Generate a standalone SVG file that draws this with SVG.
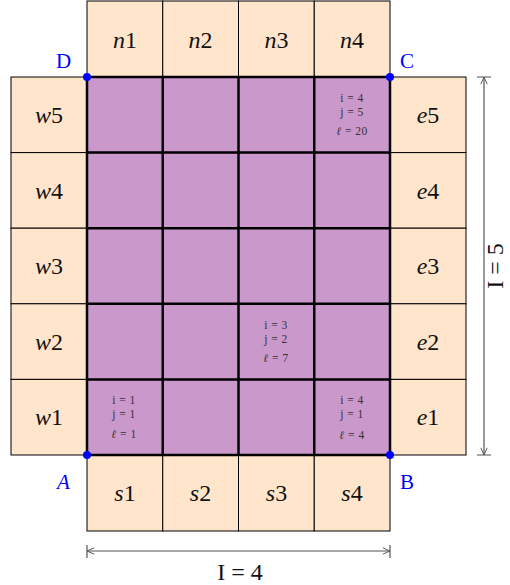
<svg xmlns="http://www.w3.org/2000/svg" width="510" height="585" viewBox="0 0 510 585">
<defs>
<style>
.pe{fill:#FFE5CC;stroke:#000;stroke-width:1}
.pu{fill:#CB98CB}
.g{stroke:#000;stroke-width:2.5;fill:none}
.lb{font-family:"Liberation Serif","DejaVu Serif",serif;font-size:24px;fill:#111;text-anchor:middle}
.it{font-style:italic}
.sm{font-family:"Liberation Serif","DejaVu Serif",serif;font-size:11.5px;fill:#333;text-anchor:middle;letter-spacing:0.5px}
.cn{font-family:"Liberation Serif","DejaVu Serif",serif;font-size:21px;fill:#0000FF}
.dot{fill:#0000FF}
.dim{stroke:#555;stroke-width:1.2;fill:none}
</style>
<marker id="ah" viewBox="0 0 10 10" refX="10" refY="5" markerWidth="8" markerHeight="8" orient="auto-start-reverse" markerUnits="userSpaceOnUse">
<path d="M1,1 L10,5 L1,9" fill="none" stroke="#555" stroke-width="1.2"/>
</marker>
</defs>
<rect width="510" height="585" fill="#fff"/>
<g id="north">
<rect class="pe" x="87" y="1" width="75.75" height="76"/>
<rect class="pe" x="162.75" y="1" width="75.75" height="76"/>
<rect class="pe" x="238.5" y="1" width="75.75" height="76"/>
<rect class="pe" x="314.25" y="1" width="75.75" height="76"/>
<text class="lb" x="125" y="48"><tspan class="it">n</tspan>1</text>
<text class="lb" x="200.5" y="48"><tspan class="it">n</tspan>2</text>
<text class="lb" x="276.5" y="48"><tspan class="it">n</tspan>3</text>
<text class="lb" x="352" y="48"><tspan class="it">n</tspan>4</text>
</g>
<g id="south">
<rect class="pe" x="87" y="455" width="75.75" height="76"/>
<rect class="pe" x="162.75" y="455" width="75.75" height="76"/>
<rect class="pe" x="238.5" y="455" width="75.75" height="76"/>
<rect class="pe" x="314.25" y="455" width="75.75" height="76"/>
<text class="lb" x="125" y="501"><tspan class="it">s</tspan>1</text>
<text class="lb" x="200.5" y="501"><tspan class="it">s</tspan>2</text>
<text class="lb" x="276.5" y="501"><tspan class="it">s</tspan>3</text>
<text class="lb" x="352" y="501"><tspan class="it">s</tspan>4</text>
</g>
<g id="west">
<rect class="pe" x="11" y="77" width="76" height="75.6"/>
<rect class="pe" x="11" y="152.6" width="76" height="75.6"/>
<rect class="pe" x="11" y="228.2" width="76" height="75.6"/>
<rect class="pe" x="11" y="303.8" width="76" height="75.6"/>
<rect class="pe" x="11" y="379.4" width="76" height="75.6"/>
<text class="lb" x="49" y="123"><tspan class="it">w</tspan>5</text>
<text class="lb" x="49" y="199"><tspan class="it">w</tspan>4</text>
<text class="lb" x="49" y="274"><tspan class="it">w</tspan>3</text>
<text class="lb" x="49" y="350"><tspan class="it">w</tspan>2</text>
<text class="lb" x="49" y="425"><tspan class="it">w</tspan>1</text>
</g>
<g id="east">
<rect class="pe" x="390" y="77" width="76" height="75.6"/>
<rect class="pe" x="390" y="152.6" width="76" height="75.6"/>
<rect class="pe" x="390" y="228.2" width="76" height="75.6"/>
<rect class="pe" x="390" y="303.8" width="76" height="75.6"/>
<rect class="pe" x="390" y="379.4" width="76" height="75.6"/>
<text class="lb" x="428" y="123"><tspan class="it">e</tspan>5</text>
<text class="lb" x="428" y="199"><tspan class="it">e</tspan>4</text>
<text class="lb" x="428" y="274"><tspan class="it">e</tspan>3</text>
<text class="lb" x="428" y="350"><tspan class="it">e</tspan>2</text>
<text class="lb" x="428" y="425"><tspan class="it">e</tspan>1</text>
</g>
<g id="domain">
<rect class="pu" x="87" y="77" width="303" height="378"/>
<path class="g" d="M87,77 H390 V455 H87 Z M162.75,77 V455 M238.5,77 V455 M314.25,77 V455 M87,152.6 H390 M87,228.2 H390 M87,303.8 H390 M87,379.4 H390"/>
</g>
<g id="cell-4-5">
<text class="sm" x="352" y="102">i = 4</text>
<text class="sm" x="352" y="116">j = 5</text>
<text class="sm" x="352" y="135"><tspan class="it">ℓ</tspan> = 20</text>
</g>
<g id="cell-3-2">
<text class="sm" x="276" y="329">i = 3</text>
<text class="sm" x="276" y="343">j = 2</text>
<text class="sm" x="276" y="362"><tspan class="it">ℓ</tspan> = 7</text>
</g>
<g id="cell-1-1">
<text class="sm" x="124" y="404">i = 1</text>
<text class="sm" x="124" y="418">j = 1</text>
<text class="sm" x="124" y="438"><tspan class="it">ℓ</tspan> = 1</text>
</g>
<g id="cell-4-1">
<text class="sm" x="352" y="404">i = 4</text>
<text class="sm" x="352" y="418">j = 1</text>
<text class="sm" x="352" y="439"><tspan class="it">ℓ</tspan> = 4</text>
</g>
<g id="corners">
<circle class="dot" cx="87" cy="77" r="4"/>
<circle class="dot" cx="390" cy="77" r="4"/>
<circle class="dot" cx="87" cy="455" r="4"/>
<circle class="dot" cx="390" cy="455" r="4"/>
<text class="cn" x="56" y="68">D</text>
<text class="cn" x="400" y="68">C</text>
<text class="cn it" x="57" y="489">A</text>
<text class="cn" x="400" y="489">B</text>
</g>
<g id="connectors">
<path class="dim" d="M87,551 H390" marker-start="url(#ah)" marker-end="url(#ah)"/>
<path class="dim" d="M87,545 V558 M390,545 V558"/>
<path class="dim" d="M484,77 V455" marker-start="url(#ah)" marker-end="url(#ah)"/>
<path class="dim" d="M477,77 H491 M477,455 H491"/>
<text class="lb" x="240" y="580">I = 4</text>
<text class="lb" transform="translate(503,266) rotate(-90)">I = 5</text>
</g>
</svg>
